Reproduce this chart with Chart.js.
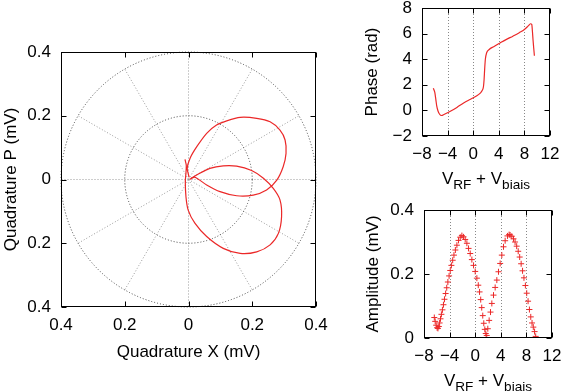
<!DOCTYPE html>
<html><head><meta charset="utf-8">
<script src="https://cdn.jsdelivr.net/npm/chart.js@4"></script>
<style>
html,body{margin:0;padding:0;background:#fff;}
#wrap{position:relative;width:567px;height:391px;overflow:hidden;background:#fff;}
canvas{position:absolute;left:0;top:0;}
</style></head><body>
<div id="wrap">
<canvas id="c1" width="567" height="391"></canvas>
<canvas id="c2" width="567" height="391"></canvas>
<canvas id="c3" width="567" height="391"></canvas>
</div>
<script>
// ---- data ----
const polarX = [-0.011,-0.007,-0.008,-0.010,-0.008,-0.001,0.020,0.057,0.109,0.162,0.214,0.256,0.282,0.292,0.287,0.266,0.235,0.198,0.151,0.109,0.067,0.031,0.005,
                0.020,0.057,0.099,0.151,0.203,0.245,0.277,0.297,0.306,0.303,0.287,0.256,0.214,0.162,0.120,0.088,0.057,0.026,0.005,-0.004,0.002];
const polarP = [0.063,0.045,0.020,-0.005,-0.054,-0.096,-0.137,-0.179,-0.216,-0.232,-0.227,-0.205,-0.169,-0.117,-0.064,-0.028,0.004,0.028,0.042,0.043,0.035,0.017,0.001,
                0.007,-0.017,-0.038,-0.051,-0.049,-0.033,-0.002,0.040,0.082,0.124,0.155,0.181,0.192,0.195,0.184,0.171,0.145,0.103,0.067,0.035,0.007];

const phaseV   = [-6.23,-6.0,-5.85,-5.7,-5.5,-5.25,-4.95,-4.5,-3.5,-2.5,-1.5,-0.5,0.5,1.1,1.4,1.6,1.7,1.8,1.9,2.1,2.5,3.2,4.2,5.2,6.2,7.2,8.0,8.6,8.95,9.15,9.25,9.35,9.45,9.56];
const phaseRad = [1.73,1.4,0.9,0.35,-0.05,-0.3,-0.4,-0.3,-0.05,0.25,0.57,0.85,1.12,1.35,1.55,1.85,2.4,3.3,4.0,4.5,4.76,4.98,5.27,5.55,5.8,6.07,6.32,6.6,6.77,6.72,6.2,5.5,4.9,4.27];

const ampV  = [-6.39,-6.25,-6.1,-5.95,-5.82,-5.68,-5.56,-5.42,-5.28,-5.12,-4.96,-4.80,-4.62,-4.45,-4.27,-4.08,-3.90,-3.72,-3.52,-3.32,-3.10,-2.86,-2.60,-2.34,-2.08,
               -1.82,-1.56,-1.30,-1.04,-0.78,-0.52,-0.26,0.0,0.26,0.48,0.68,0.86,1.02,1.18,1.34,1.50,1.65,1.80,
               1.97,2.18,2.39,2.60,2.86,3.12,3.38,3.64,3.90,4.16,4.42,4.68,5.04,5.30,5.45,5.72,5.98,6.23,6.48,6.72,6.95,7.18,7.40,7.62,7.84,8.05,8.26,8.47,8.68,8.88,9.08,9.28,9.45];
const ampMV = [0.064,0.052,0.040,0.032,0.030,0.036,0.047,0.060,0.074,0.088,0.104,0.121,0.139,0.157,0.175,0.194,0.211,0.227,0.243,0.259,0.275,0.290,0.305,0.315,0.320,
               0.316,0.308,0.296,0.280,0.264,0.245,0.227,0.208,0.187,0.165,0.144,0.120,0.095,0.070,0.046,0.027,0.014,0.008,
               0.029,0.055,0.081,0.108,0.134,0.158,0.181,0.207,0.233,0.259,0.285,0.304,0.319,0.323,0.322,0.318,0.310,0.300,0.287,0.271,0.253,0.232,0.210,0.188,0.164,0.140,0.115,0.089,0.066,0.047,0.034,0.020,0.005];

const quadTicks = [-0.4,-0.2,0,0.2,0.4];
const quadTickLabels = ['0.4','0.2','0','0.2','0.4'];
const voltTicks = [-8,-4,0,4,8,12];
const voltTickLabels = ['\u22128','\u22124','0','4','8','12'];
const phaseTicks = [-2,0,2,4,6,8];
const phaseTickLabels = ['\u22122','0','2','4','6','8'];
const ampTicks = [0,0.2,0.4];
const ampTickLabels = ['0','0.2','0.4'];
const polarRadii = [0.2,0.4];
const polarAngles = [0,30,60,90,120,150,180,210,240,270,300,330];
const voltGrid = [-4,0,4,8];

// ---- drawing ----
const RED = 'rgb(235,40,40)';
const FONT = '"Liberation Sans", Arial, sans-serif';
const FS = 17;
Chart.defaults.font.family = FONT;
Chart.defaults.font.size = FS;
Chart.defaults.color = '#000';

function drawRich(ctx, pieces, cx, base, size) {
  const fnt = s => s + 'px ' + FONT;
  let total = 0;
  const w = pieces.map(p => { ctx.font = fnt(p.sub ? size * 0.8 : size); const m = ctx.measureText(p.t).width; total += m; return m; });
  let x = cx - total / 2;
  ctx.textAlign = 'left'; ctx.textBaseline = 'alphabetic'; ctx.fillStyle = '#000';
  pieces.forEach((p, i) => {
    ctx.font = fnt(p.sub ? size * 0.8 : size);
    ctx.fillText(p.t, x, base + (p.sub ? size * 0.35 : 0));
    x += w[i];
  });
}

const frame = {
  id: 'frame',
  beforeDatasetsDraw(chart, args, o) {
    const {ctx, chartArea: a} = chart;
    const sx = chart.scales.x, sy = chart.scales.y;
    ctx.save();
    ctx.lineWidth = 1;
    ctx.setLineDash([1, 2]);
    if (o.polar) {
      const cx = sx.getPixelForValue(0), cy = sy.getPixelForValue(0);
      const rMax = o.polar.radii[o.polar.radii.length - 1];
      ctx.strokeStyle = '#9a9a9a';
      o.polar.angles.forEach(d => {
        const t = d * Math.PI / 180;
        ctx.beginPath(); ctx.moveTo(cx, cy);
        ctx.lineTo(sx.getPixelForValue(rMax * Math.cos(t)), sy.getPixelForValue(rMax * Math.sin(t)));
        ctx.stroke();
      });
      ctx.strokeStyle = '#444';
      o.polar.radii.forEach(r => {
        const rp = sx.getPixelForValue(r) - cx;
        ctx.beginPath(); ctx.arc(cx, cy, rp, 0, 2 * Math.PI); ctx.stroke();
      });
    }
    if (o.vgrid) {
      ctx.strokeStyle = '#888';
      o.vgrid.forEach(v => {
        const px = Math.round(sx.getPixelForValue(v)) + 0.5;
        ctx.beginPath(); ctx.moveTo(px, a.top); ctx.lineTo(px, a.bottom); ctx.stroke();
      });
    }
    ctx.restore();
  },
  afterDatasetsDraw(chart, args, o) {
    const {ctx, chartArea: a} = chart;
    const sx = chart.scales.x, sy = chart.scales.y;
    ctx.save();
    ctx.strokeStyle = '#000'; ctx.lineWidth = 1; ctx.setLineDash([]);
    const L = Math.round(a.left) + 0.5, R = Math.round(a.right) - 0.5, T = Math.round(a.top) + 0.5, B = Math.round(a.bottom) - 0.5;
    ctx.strokeRect(L, T, R - L, B - T);
    const tl = 5;
    ctx.beginPath();
    sx.ticks.forEach(t => { const px = Math.round(sx.getPixelForValue(t.value)) + 0.5; ctx.moveTo(px, B); ctx.lineTo(px, B - tl); ctx.moveTo(px, T); ctx.lineTo(px, T + tl); });
    sy.ticks.forEach(t => { const py = Math.round(sy.getPixelForValue(t.value)) + 0.5; ctx.moveTo(L, py); ctx.lineTo(L + tl, py); ctx.moveTo(R, py); ctx.lineTo(R - tl, py); });
    ctx.stroke();
    drawRich(ctx, o.xTitle, (a.left + a.right) / 2, a.bottom + o.xTitleOff, FS);
    ctx.translate(o.yTitleX, (a.top + a.bottom) / 2);
    ctx.rotate(-Math.PI / 2);
    drawRich(ctx, o.yTitle, 0, 0, FS);
    ctx.restore();
  }
};

const WY = 60, HX = 30;
function axis(ticks, labels, isY) {
  return {
    type: 'linear', min: ticks[0], max: ticks[ticks.length - 1],
    grid: {display: false, drawTicks: false}, border: {display: false},
    ticks: {padding: isY ? 10 : 8, autoSkip: false, maxRotation: 0, minRotation: 0, callback: (v, i) => labels[i]},
    afterBuildTicks: sc => { sc.ticks = ticks.map(v => ({value: v})); },
    afterFit: sc => {
      if (isY) sc.width = WY; else sc.height = HX;
      sc.paddingTop = sc.paddingBottom = sc.paddingLeft = sc.paddingRight = 0;
    }
  };
}

function build(id, datasets, tg, xAxis, yAxis, frameOpts) {
  const ch = new Chart(document.getElementById(id), {
    type: 'scatter',
    data: {datasets},
    options: {
      responsive: false, animation: false, events: [],
      layout: {padding: {left: tg.l - WY, top: tg.t, right: 567 - tg.r, bottom: 391 - tg.b - HX}},
      plugins: {legend: {display: false}, tooltip: {enabled: false}, frame: frameOpts},
      scales: {x: xAxis, y: yAxis}
    },
    plugins: [frame]
  });
  for (let k = 0; k < 2; k++) {
    const a = ch.chartArea, p = ch.options.layout.padding;
    const np = {left: p.left + tg.l - a.left, top: p.top + tg.t - a.top, right: p.right + a.right - tg.r, bottom: p.bottom + a.bottom - tg.b};
    if (Math.abs(np.left - p.left) + Math.abs(np.top - p.top) + Math.abs(np.right - p.right) + Math.abs(np.bottom - p.bottom) < 0.01) break;
    ch.options.layout.padding = np;
    ch.update('none');
  }
  return ch;
}

const xy = (xs, ys) => xs.map((x, i) => ({x, y: ys[i]}));
const vTitle = [{t: 'V'}, {t: 'RF', sub: 1}, {t: ' + V'}, {t: 'biais', sub: 1}];

build('c1', [{
    data: xy(polarX, polarP), showLine: true, borderColor: RED, borderWidth: 1.2,
    pointRadius: 0, tension: 0.25, fill: false
  }], {l: 61, t: 52, r: 316, b: 307},
  axis(quadTicks, quadTickLabels, false), axis(quadTicks, quadTickLabels, true),
  {polar: {radii: polarRadii, angles: polarAngles}, xTitle: [{t: 'Quadrature X (mV)'}], xTitleOff: 50, yTitle: [{t: 'Quadrature P (mV)'}], yTitleX: 16});

build('c2', [{
    data: xy(phaseV, phaseRad), showLine: true, borderColor: RED, borderWidth: 1.2,
    pointRadius: 0, cubicInterpolationMode: 'monotone', fill: false
  }], {l: 422, t: 8, r: 550, b: 136},
  axis(voltTicks, voltTickLabels, false), axis(phaseTicks, phaseTickLabels, true),
  {vgrid: voltGrid, xTitle: vTitle, xTitleOff: 47.5, yTitle: [{t: 'Phase (rad)'}], yTitleX: 377});

build('c3', [{
    data: xy(ampV, ampMV), showLine: false, pointStyle: 'cross', pointRadius: 3,
    pointBorderWidth: 1, borderColor: RED, backgroundColor: RED
  }], {l: 424, t: 210, r: 552, b: 338},
  axis(voltTicks, voltTickLabels, false), axis(ampTicks, ampTickLabels, true),
  {vgrid: voltGrid, xTitle: vTitle, xTitleOff: 47.5, yTitle: [{t: 'Amplitude (mV)'}], yTitleX: 378});
</script>
</body></html>
